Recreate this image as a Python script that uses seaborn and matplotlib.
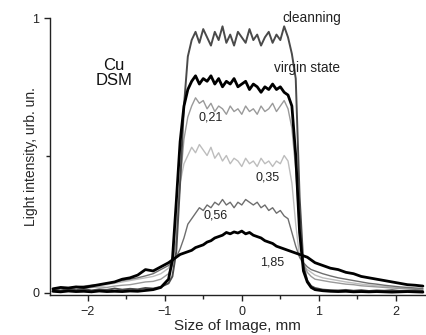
import numpy as np
import pandas as pd
import seaborn as sns
import matplotlib
matplotlib.use("Agg")
import matplotlib.pyplot as plt
from matplotlib.ticker import MultipleLocator

# sample positions (mm), shared by all curves
x_left = [-2.45, -2.35, -2.25, -2.15, -2.05, -1.95, -1.85, -1.75, -1.65, -1.55,
          -1.45, -1.35, -1.25, -1.15, -1.05]
x_edge1 = [-0.95, -0.9, -0.85, -0.8, -0.75, -0.7]
x_top = [-0.65, -0.6, -0.55, -0.5, -0.45, -0.4, -0.35, -0.3, -0.25, -0.2, -0.15,
         -0.1, -0.05, 0.0, 0.05, 0.1, 0.15, 0.2, 0.25, 0.3, 0.35, 0.4, 0.45, 0.5,
         0.55, 0.6, 0.65]
x_edge2 = [0.7, 0.75, 0.8, 0.85, 0.9, 0.95]
x_right = [1.05, 1.15, 1.25, 1.35, 1.45, 1.55, 1.65, 1.75, 1.85, 1.95, 2.05,
           2.15, 2.25, 2.35]
x_mm = x_left + x_edge1 + x_top + x_edge2 + x_right

cleanning = [.012, .008, .015, .01, .014, .009, .013, .011, .016, .012, .015, .013, .018, .016, .022,
             .035, .06, .15, .4, .68, .86,
             .92, .95, .91, .96, .93, .90, .95, .92, .97, .91, .94, .90, .95, .93, .91, .96, .92, .94,
             .90, .93, .95, .91, .94, .92, .97, .93, .87,
             .78, .35, .1, .045, .025, .018,
             .012, .01, .009, .011, .008, .01, .007, .009, .008, .01, .007, .008, .009, .007]

virgin = [.006, .004, .007, .005, .006, .004, .007, .005, .006, .005, .007, .006, .009, .012, .02,
          .05, .12, .33, .55, .68, .74,
          .77, .79, .76, .78, .77, .79, .76, .78, .75, .77, .76, .78, .75, .76, .77, .74, .76, .75,
          .73, .75, .74, .76, .74, .75, .73, .72, .68,
          .5, .22, .08, .04, .02, .012,
          .008, .006, .005, .006, .004, .005, .004, .005, .004, .003, .004, .005, .004, .003]

dose_021 = [.01, .015, .012, .018, .016, .02, .022, .02, .025, .028, .03, .035, .04, .042, .05,
            .07, .1, .2, .4, .56, .64,
            .68, .71, .69, .70, .67, .69, .66, .68, .67, .65, .68, .66, .67, .65, .68, .66, .67, .65,
            .68, .66, .67, .69, .66, .68, .70, .67, .6,
            .45, .22, .11, .075, .06, .05,
            .045, .04, .036, .032, .03, .026, .024, .022, .02, .018, .016, .015, .014, .012]

dose_035 = [.012, .018, .015, .02, .022, .025, .028, .03, .035, .04, .045, .05, .055, .06, .07,
            .09, .13, .25, .4, .47, .5,
            .53, .51, .54, .52, .50, .53, .49, .51, .48, .50, .47, .49, .48, .46, .49, .47, .48, .46,
            .49, .47, .48, .46, .48, .47, .50, .48, .4,
            .25, .13, .1, .085, .075, .065,
            .055, .05, .045, .04, .036, .032, .029, .026, .024, .021, .019, .017, .015, .014]

dose_056 = [.015, .02, .018, .022, .025, .028, .03, .035, .04, .045, .05, .055, .062, .07, .085,
            .1, .115, .13, .16, .2, .25,
            .27, .29, .31, .30, .32, .31, .33, .32, .34, .32, .33, .31, .33, .32, .34, .33, .32, .33,
            .31, .32, .30, .31, .29, .30, .28, .27, .22,
            .17, .13, .11, .095, .085, .08,
            .07, .062, .055, .05, .045, .04, .035, .032, .028, .025, .022, .02, .018, .016]

dose_185 = [.015, .02, .018, .022, .02, .025, .03, .035, .04, .05, .055, .065, .085, .08, .095,
            .11, .12, .13, .14, .145, .15,
            .155, .165, .17, .175, .185, .19, .2, .205, .21, .22, .215, .222, .218, .225, .215, .22,
            .21, .205, .2, .19, .185, .18, .17, .165, .16, .155, .15,
            .145, .14, .135, .13, .12, .11,
            .1, .09, .085, .075, .07, .06, .055, .05, .045, .04, .035, .03, .028, .025]

# (values, colour, line width), drawn light-to-dark
curves = [
    (dose_035, "#bdbdbd", 1.0),
    (dose_021, "#9a9a9a", 1.0),
    (dose_056, "#6e6e6e", 1.0),
    (cleanning, "#4a4a4a", 1.4),
    (virgin, "#000000", 2.0),
    (dose_185, "#000000", 2.0),
]

sns.set_style("ticks")
plt.rcParams["font.family"] = ["Liberation Sans", "DejaVu Sans"]

fig = plt.figure(figsize=(4.26, 3.35), dpi=100)
ax = fig.add_axes([0.117, 0.119, 0.883, 0.827])

for vals, col, lw in curves:
    sns.lineplot(x=x_mm, y=vals, ax=ax, color=col, linewidth=lw,
                 sort=False, estimator=None)

ax.set_xlim(-2.49, 2.39)
ax.set_ylim(-0.008, 1.0)
ax.set_xticks([-2, -1, 0, 1, 2])
ax.xaxis.set_minor_locator(MultipleLocator(0.5))
ax.set_yticks([0, 1])
ax.set_yticklabels(["0", "1"])
ax.yaxis.set_minor_locator(MultipleLocator(0.5))
ax.tick_params(which="major", length=4, width=1, labelsize=9, colors="#222222")
ax.tick_params(which="minor", length=3, width=1, colors="#222222")
sns.despine(ax=ax)
for s in ["left", "bottom"]:
    ax.spines[s].set_color("#222222")
    ax.spines[s].set_linewidth(1.0)

ax.set_xlabel("Size of Image, mm", fontsize=11, labelpad=1)
ax.set_ylabel("Light intensity, urb. un.", fontsize=10, labelpad=-4)

txt = dict(fontsize=9, color="#222222", ha="center", va="center")
words = dict(fontsize=9.8, color="#222222", ha="center", va="center")
ax.text(-1.66, 0.80, "Cu\nDSM", fontsize=12, color="#111111", ha="center",
        va="center", linespacing=1.05)
ax.text(0.91, 1.0, "cleanning", **words)
ax.text(0.84, 0.82, "virgin state", **words)
ax.text(-0.40, 0.64, "0,21", **txt)
ax.text(0.33, 0.42, "0,35", **txt)
ax.text(-0.34, 0.28, "0,56", **txt)
ax.text(0.40, 0.11, "1,85", **txt)

fig.savefig("out.png", dpi=100)
